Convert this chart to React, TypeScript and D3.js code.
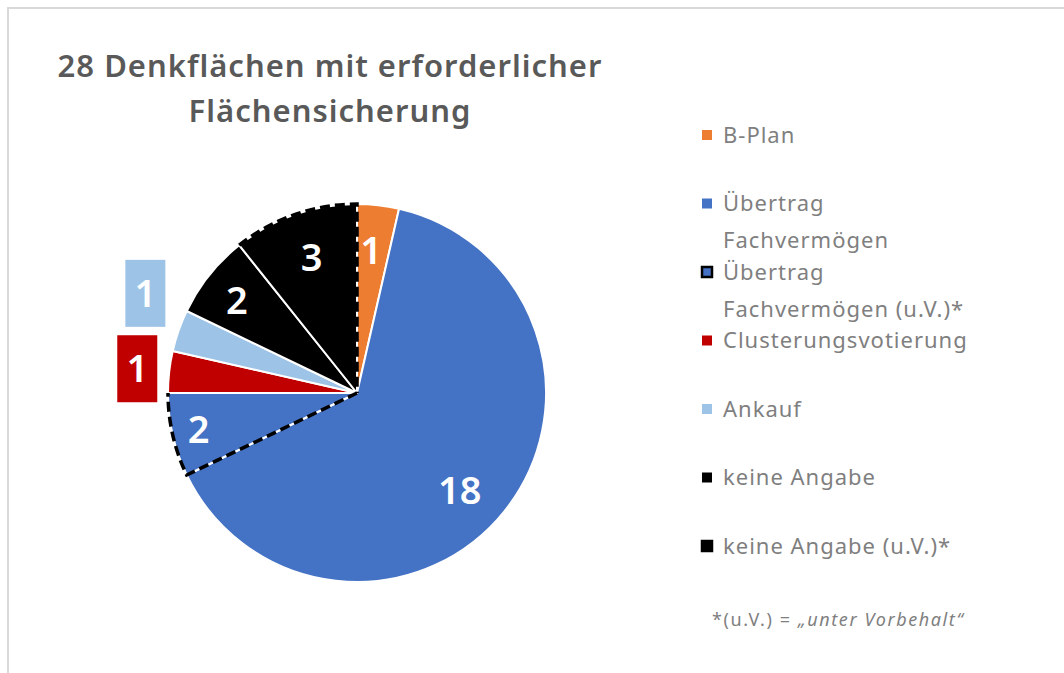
import React from 'react';
import * as d3 from 'd3';

const categories = [
  'B-Plan',
  'Übertrag Fachvermögen',
  'Übertrag Fachvermögen (u.V.)*',
  'Clusterungsvotierung',
  'Ankauf',
  'keine Angabe',
  'keine Angabe (u.V.)*',
];
const values = [1, 18, 2, 1, 1, 2, 3];
const colors = ['#ED7D31', '#4472C4', '#4472C4', '#C00000', '#9DC3E6', '#000000', '#000000'];
const legendLines = [
  ['B-Plan'],
  ['Übertrag', 'Fachvermögen'],
  ['Übertrag', 'Fachvermögen (u.V.)*'],
  ['Clusterungsvotierung'],
  ['Ankauf'],
  ['keine Angabe'],
  ['keine Angabe (u.V.)*'],
];
// which edge of a "unter Vorbehalt" slice carries the dashed outline
const dashedEdge = ['', '', 'start', '', '', '', 'end'];
// labels placed outside in a coloured box
const outsideLabel = [false, false, false, true, true, false, false];
const labelRadiusFactor = [0.76, 0.75, 0.86, 1.17, 1.22, 0.8, 0.76];
const labelDx = [-2, -8, 0, 0, 6, -2, 2];
const labelDy = [0, 9, 0, 0, -24, 2, 0];
const titleLines = ['28 Denkflächen mit erforderlicher', 'Flächensicherung'];
const footnotePlain = '*(u.V.) = ';
const footnoteItalic = '„unter Vorbehalt“';

const W = 1064;
const H = 673;
const cx = 357;
const cy = 393;
const R = 189;
const FONT = "'Noto Sans', 'Open Sans', sans-serif";

export default function App() {
  const pie = d3
    .pie<number>()
    .sort(null)
    .value((d) => d)
    .startAngle(0)
    .endAngle(2 * Math.PI);
  const arcs = pie(values);
  const arcGen = d3.arc<d3.PieArcDatum<number>>().innerRadius(0).outerRadius(R);

  const legendY = d3
    .scalePoint<number>()
    .domain(d3.range(categories.length))
    .range([135, 546]);

  const pt = (a: number, r: number): [number, number] => [r * Math.sin(a), -r * Math.cos(a)];

  const dashedPath = (d: d3.PieArcDatum<number>, edge: string) => {
    const p = d3.path();
    const s = pt(d.startAngle, R);
    if (edge === 'start') {
      p.moveTo(0, 0);
      p.lineTo(s[0], s[1]);
      p.arc(0, 0, R, d.startAngle - Math.PI / 2, d.endAngle - Math.PI / 2);
    } else {
      p.moveTo(s[0], s[1]);
      p.arc(0, 0, R, d.startAngle - Math.PI / 2, d.endAngle - Math.PI / 2);
      p.lineTo(0, 0);
    }
    return p.toString();
  };

  return (
    <svg
      width={W}
      height={H}
      style={{ position: 'absolute', left: 0, top: 0, background: '#fff' }}
      fontFamily={FONT}
    >
      <rect x={0} y={0} width={W} height={H} fill="#fff" />
      <line x1={7} y1={8} x2={W} y2={8} stroke="#d9d9d9" strokeWidth={2} />
      <line x1={8} y1={7} x2={8} y2={H} stroke="#d9d9d9" strokeWidth={2} />

      {titleLines.map((t, i) => (
        <text
          key={i}
          x={330}
          y={77 + i * 45}
          textAnchor="middle"
          fontSize={31}
          fontWeight={600}
          letterSpacing={1}
          fill="#595959"
        >
          {t}
        </text>
      ))}

      <g transform={`translate(${cx},${cy})`}>
        {arcs.map((d, i) => (
          <path key={i} d={arcGen(d) || ''} fill={colors[i]} stroke="#fff" strokeWidth={2} strokeLinejoin="round" />
        ))}
        {arcs.map((d, i) =>
          dashedEdge[i] ? (
            <path
              key={'dash' + i}
              d={dashedPath(d, dashedEdge[i])}
              fill="none"
              stroke="#000"
              strokeWidth={3.5}
              strokeDasharray="10 5"
            />
          ) : null
        )}
        {arcs.map((d, i) => {
          const mid = (d.startAngle + d.endAngle) / 2;
          const [px, py] = pt(mid, R * labelRadiusFactor[i]);
          const x = px + labelDx[i];
          const y = py + labelDy[i];
          return (
            <g key={'lab' + i}>
              {outsideLabel[i] && (
                <rect x={x - 20} y={y - 33} width={40} height={67} fill={colors[i]} />
              )}
              <text
                x={x}
                y={y}
                dy="0.36em"
                textAnchor="middle"
                fontSize={38}
                fontWeight={600}
                fill="#fff"
              >
                {d.data}
              </text>
            </g>
          );
        })}
      </g>

      {categories.map((c, i) => {
        const y = legendY(i) as number;
        const uv = dashedEdge[i] !== '';
        return (
          <g key={'leg' + i}>
            <rect
              x={702}
              y={y - 5}
              width={10}
              height={10}
              fill={colors[i]}
              stroke={uv ? '#000' : 'none'}
              strokeWidth={uv ? 2.5 : 0}
            />
            {legendLines[i].map((l, j) => (
              <text
                key={j}
                x={723}
                y={y + j * 37}
                dy="0.36em"
                fontSize={22}
                letterSpacing={1}
                fill="#7f7f7f"
              >
                {l}
              </text>
            ))}
          </g>
        );
      })}

      <text x={712} y={620} dy="0.36em" fontSize={18} letterSpacing={1.6} fill="#7f7f7f">
        {footnotePlain}
        <tspan fontStyle="italic">{footnoteItalic}</tspan>
      </text>
    </svg>
  );
}
